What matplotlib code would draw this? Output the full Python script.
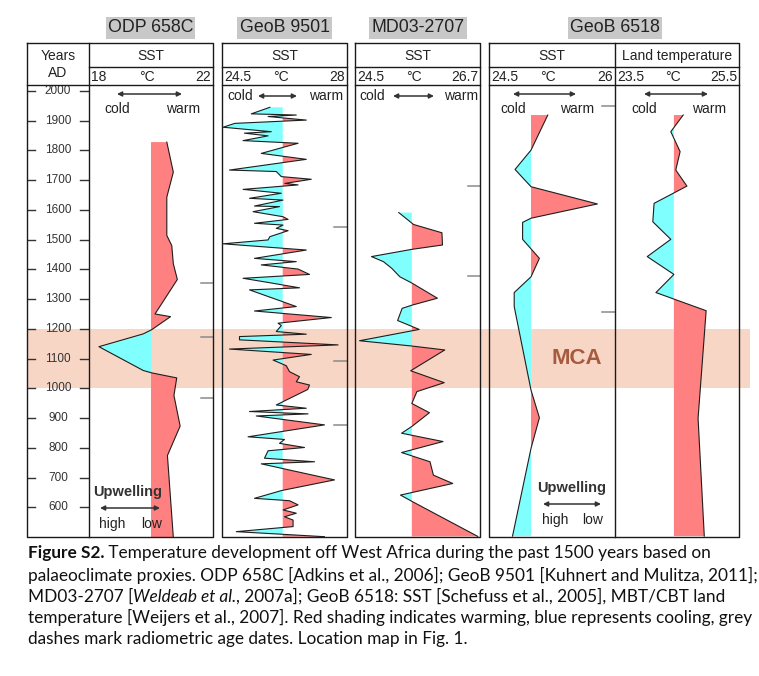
import numpy as np
import matplotlib
matplotlib.use("Agg")
import matplotlib.pyplot as plt
from matplotlib import font_manager

W, H = 759, 676

# ---- data (year AD, temperature in deg C) ----
odp_year = [1828, 1727, 1643, 1514, 1480, 1419, 1366, 1250, 1241, 1197, 1183, 1140,
            1060, 1052, 1035, 976, 873, 774, 499]
odp_sst = [20.51, 20.72, 20.51, 20.51, 20.67, 20.72, 20.85, 20.13, 20.63, 20.02, 19.75, 18.32,
           19.75, 20.02, 20.83, 20.74, 20.94, 20.53, 20.72]
odp_age = [1353, 1171, 969]

g9501_year = [1945, 1923, 1919, 1914, 1902, 1891, 1878, 1863, 1858, 1849,
              1833, 1824, 1807, 1790, 1770, 1734, 1729, 1712, 1703, 1689,
              1684, 1669, 1656, 1639, 1633, 1613, 1611, 1594, 1577, 1568,
              1555, 1549, 1538, 1530, 1510, 1499, 1486, 1465, 1437, 1426,
              1415, 1401, 1383, 1370, 1356, 1338, 1331, 1275, 1260, 1238,
              1219, 1211, 1191, 1182, 1174, 1163, 1146, 1132, 1114, 1095,
              1076, 1056, 1039, 1022, 1011, 996, 944, 933, 922, 914,
              907, 877, 837, 828, 815, 801, 790, 765, 753, 746,
              692, 656, 630, 622, 608, 591, 580, 568, 557, 535,
              518, 501]
g9501_sst = [25.84, 25.32, 26.58, 25.79, 26.86, 24.86, 24.53, 25.88, 25.13, 25.79,
             25.09, 26.63, 26.11, 25.60, 26.86, 24.71, 26.02, 26.16, 27.00, 26.26,
             26.63, 25.09, 26.16, 25.27, 26.21, 25.41, 26.11, 25.37, 26.21, 26.35,
             25.41, 26.21, 26.02, 26.35, 25.84, 25.79, 24.53, 26.86, 25.41, 26.58,
             25.60, 26.63, 26.95, 25.09, 25.79, 26.67, 25.27, 26.58, 25.41, 27.56,
             26.07, 26.16, 26.02, 26.86, 24.99, 24.99, 27.75, 24.71, 27.00, 25.93,
             26.30, 26.39, 26.67, 26.58, 26.95, 26.90, 26.02, 26.86, 25.27, 26.91,
             25.46, 27.37, 25.23, 26.25, 26.11, 26.81, 25.79, 25.69, 27.09, 25.60,
             27.65, 26.16, 25.41, 26.39, 26.63, 26.21, 26.58, 26.25, 26.49, 26.49,
             24.90, 27.37]
g9501_age = [1541, 1093, 875]

md03_year = [1591, 1551, 1523, 1482, 1467, 1443, 1426, 1403, 1375, 1353, 1303,
             1280, 1269, 1228, 1198, 1160, 1142, 1129, 1059, 1019, 989, 949,
             918, 873, 849, 821, 784, 753, 708, 680, 641, 619, 502]
md03_sst = [25.27, 25.53, 26.03, 26.04, 25.49, 24.79, 25.00, 25.15, 25.29, 25.51, 25.95,
            25.51, 25.33, 25.25, 25.63, 24.58, 25.51, 26.08, 25.48, 26.07, 25.59, 25.50,
            25.81, 25.51, 25.32, 26.05, 25.32, 25.82, 25.88, 26.22, 25.30, 25.51, 26.66]
md03_age = [1679, 1379]

g6518_year = [1919, 1801, 1736, 1678, 1620, 1572, 1558, 1501, 1437, 1375, 1322,
              1275, 994, 901, 798, 503]
g6518_sst = [25.20, 25.00, 24.81, 25.00, 25.79, 25.00, 24.90, 24.90, 25.10, 25.00, 24.80,
             24.80, 25.00, 25.10, 25.00, 24.78]
g6518_age = [1948, 1255]

land_year = [1919, 1863, 1796, 1734, 1680, 1622, 1560, 1501, 1443, 1383, 1322,
             1261, 899, 503]
land_temp = [24.60, 24.40, 24.55, 24.48, 24.66, 24.13, 24.11, 24.40, 24.02, 24.45, 24.16,
             24.97, 24.84, 24.94]
land_age = []

mca = (1000, 1200)
year_ticks = list(range(600, 2001, 100))
ylims = (500, 2020)

RED = '#ff8080'
CYAN = '#80ffff'
LINE = '#1e1e1e'
TXT = '#222222'
FONT = 'Liberation Sans'

fig = plt.figure(figsize=(W / 100, H / 100), dpi=100)
fig.patch.set_facecolor('white')


def px_axes(x0, y0, x1, y1, z=1):
    ax = fig.add_axes([x0 / W, 1 - y1 / H, (x1 - x0) / W, (y1 - y0) / H])
    ax.set_zorder(z)
    ax.axis('off')
    return ax


# MCA band
band = px_axes(27, 85, 750, 537, z=0)
band.set_ylim(*ylims)
band.set_xlim(0, 1)
band.axhspan(mca[0], mca[1], color='#f8d6c6', lw=0)

# data panels: (x0, x1, xlim, baseline, values, years, ages)
panels = [
    (89, 213, (18, 22), 20.0, odp_sst, odp_year, odp_age),
    (222, 347, (24.5, 28), 26.2, g9501_sst, g9501_year, g9501_age),
    (355, 480, (24.5, 26.7), 25.5, md03_sst, md03_year, md03_age),
    (489, 615, (24.5, 26), 25.0, g6518_sst, g6518_year, g6518_age),
    (615, 739, (23.5, 25.5), 24.45, land_temp, land_year, land_age),
]
for x0, x1, xl, base, vals, yrs, ages in panels:
    ax = px_axes(x0, 85, x1, 537, z=1)
    ax.set_xlim(*xl)
    ax.set_ylim(*ylims)
    v = np.array(vals)
    y = np.array(yrs)
    ax.fill_betweenx(y, v, base, where=v >= base, interpolate=True, color=RED, lw=0)
    ax.fill_betweenx(y, v, base, where=v <= base, interpolate=True, color=CYAN, lw=0)
    ax.plot(v, y, color=LINE, lw=0.8)
    span = xl[1] - xl[0]
    for a in ages:
        ax.plot([xl[1] - 0.1 * span, xl[1]], [a, a], color='#8a8a8a', lw=1.1)

# years column ticks
yax = px_axes(27, 85, 89, 537, z=2)
yax.set_xlim(0, 62)
yax.set_ylim(*ylims)
for t in year_ticks:
    yax.plot([0, 8], [t, t], color='#333333', lw=1)
    yax.plot([53, 62], [t, t], color='#333333', lw=1)
    yax.text(31, t, str(t), ha='center', va='center', fontsize=8.5,
             family=FONT, color='#333333')

# foreground overlay in pixel coordinates
fg = fig.add_axes([0, 0, 1, 1])
fg.set_zorder(3)
fg.set_xlim(0, W)
fg.set_ylim(H, 0)
fg.axis('off')

lk = dict(color='#1a1a1a', lw=1.0, solid_capstyle='projecting')


def rect(x0, y0, x1, y1):
    fg.plot([x0, x1, x1, x0, x0], [y0, y0, y1, y1, y0], **lk)


rect(27, 43, 213, 537)
fg.plot([89, 89], [43, 537], **lk)
fg.plot([27, 213], [85, 85], **lk)
fg.plot([89, 213], [67, 67], **lk)
for a, b in [(222, 347), (355, 480), (489, 739)]:
    rect(a, 43, b, 537)
    fg.plot([a, b], [67, 67], **lk)
    fg.plot([a, b], [85, 85], **lk)
fg.plot([615, 615], [43, 537], **lk)

# station titles
titles = [('ODP 658C', 150.5), ('GeoB 9501', 284.5), ('MD03-2707', 418), ('GeoB 6518', 615)]
for s, xc in titles:
    fg.text(xc, 28, s, ha='center', va='center', fontsize=12.8, family=FONT, color=TXT,
            bbox=dict(boxstyle='square,pad=0.12', fc='#c8c8c8', ec='none'))

tk = dict(fontsize=10, family=FONT, color=TXT)
fg.text(58, 56, 'Years', ha='center', va='center', **tk)
fg.text(58, 73, 'AD', ha='center', va='center', **tk)

heads = [(89, 213, 'SST', '18', '22'), (222, 347, 'SST', '24.5', '28'),
         (355, 480, 'SST', '24.5', '26.7'), (489, 615, 'SST', '24.5', '26'),
         (615, 739, 'Land temperature', '23.5', '25.5')]
for a, b, name, lo, hi in heads:
    c = (a + b) / 2
    fg.text(c, 56, name, ha='center', va='center', **tk)
    fg.text(a + 2, 77, lo, ha='left', va='center', **tk)
    fg.text(c - 4, 77, '°C', ha='center', va='center', **tk)
    fg.text(b - 2, 77, hi, ha='right', va='center', **tk)

ak = dict(arrowstyle='<|-|>', color='#333333', lw=1.1, mutation_scale=7,
          shrinkA=0, shrinkB=0)


def arrow(x0, x1, y):
    fg.annotate('', xy=(x1, y), xytext=(x0, y), arrowprops=ak)


# cold / warm labels
for xa, xb in [(117, 182), (513, 576), (644, 708)]:
    arrow(xa, xb, 94)
    fg.text(xa, 109, 'cold', ha='center', va='center', **tk)
    fg.text(xb + 1, 109, 'warm', ha='center', va='center', **tk)
for xc, xa, xb, xw in [(227, 258, 297, 343), (359, 393, 434, 478)]:
    arrow(xa, xb, 96)
    fg.text(xc, 96, 'cold', ha='left', va='center', **tk)
    fg.text(xw, 96, 'warm', ha='right', va='center', **tk)

# upwelling labels
for xc, y, xa, xb in [(128, 492, 100, 160), (572, 488, 543, 601)]:
    fg.text(xc, y, 'Upwelling', ha='center', va='center', fontsize=10.5,
            fontweight='bold', family=FONT, color='#333333')
    arrow(xa, xb, y + 16)
    fg.text(xa + 12, y + 32, 'high', ha='center', va='center', **tk)
    fg.text(xb - 8, y + 32, 'low', ha='center', va='center', **tk)

fg.text(577, 358, 'MCA', ha='center', va='center', fontsize=16, fontweight='bold',
        family=FONT, color='#a65a3e')

# caption
names = {f.name for f in font_manager.fontManager.ttflist}
cap_font = 'Lato'
for cand in ['Liberation Sans Narrow', 'Lato', 'Liberation Sans']:
    if cand in names:
        cap_font = cand
        break
renderer = fig.canvas.get_renderer()

cap_lines = [
    [('Figure S2.', 'bold', 'normal'),
     (' Temperature development off West Africa during the past 1500 years based on', 'normal', 'normal')],
    [('palaeoclimate proxies. ODP 658C [Adkins et al., 2006]; GeoB 9501 [Kuhnert and Mulitza, 2011];', 'normal', 'normal')],
    [('MD03-2707 [', 'normal', 'normal'), ('Weldeab et al.', 'normal', 'italic'),
     (', 2007a]; GeoB 6518: SST [Schefuss et al., 2005], MBT/CBT land', 'normal', 'normal')],
    [('temperature [Weijers et al., 2007]. Red shading indicates warming, blue represents cooling, grey', 'normal', 'normal')],
    [('dashes mark radiometric age dates. Location map in Fig. 1.', 'normal', 'normal')],
]


def text_w(s, size, weight, style):
    t = fg.text(0, 0, s, fontsize=size, fontweight=weight, fontstyle=style, family=cap_font)
    w = t.get_window_extent(renderer).width
    t.remove()
    return w


def run_w(s, size, weight, style):
    # measure with bracketing characters so edge spaces count
    return text_w('|' + s + '|', size, weight, style) - text_w('||', size, weight, style)


def line_w(runs, size):
    return sum(run_w(s, size, w, st) for s, w, st in runs)


cap_size = 12 * 722 / line_w(cap_lines[3], 12)
cap_base = [558, 581, 602, 623, 644]
for runs, y in zip(cap_lines, cap_base):
    x = 28
    for s, w, st in runs:
        fg.text(x, y, s, fontsize=cap_size, fontweight=w, fontstyle=st, family=cap_font,
                ha='left', va='baseline', color='#111111')
        x += run_w(s, cap_size, w, st)

fig.savefig('out.png', dpi=100)
